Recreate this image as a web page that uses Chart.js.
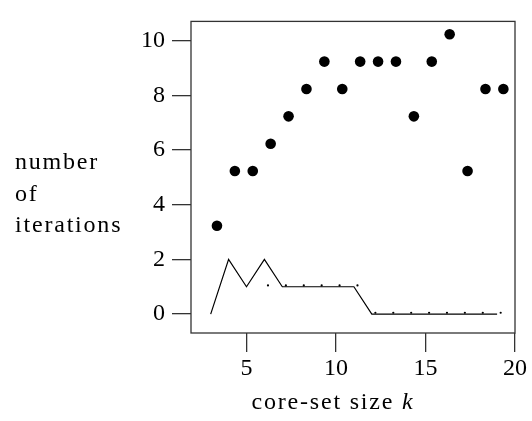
<!DOCTYPE html>
<html>
<head>
<meta charset="utf-8">
<script src="https://cdn.jsdelivr.net/npm/chart.js@4/dist/chart.umd.min.js"></script>
<style>
  html, body { margin: 0; padding: 0; background: #fff; }
  #wrap { width: 532px; height: 421px; }
</style>
</head>
<body>
<div id="wrap"><canvas id="myChart" width="532" height="421"></canvas></div>
<script>
// core-set size k
const coreSetSizes = [3, 4, 5, 6, 7, 8, 9, 10, 11, 12, 13, 14, 15, 16, 17, 18, 19];
// big dots
const iterations = [3, 5, 5, 6, 7, 8, 9, 8, 9, 9, 9, 7, 9, 10, 5, 8, 8];
// solid line
const lineIterations = [0, 2, 1, 2, 1, 1, 1, 1, 1, 0, 0, 0, 0, 0, 0, 0, 0];
// small dots
const smallDotSizes = [6, 7, 8, 9, 10, 11, 12, 13, 14, 15, 16, 17, 18, 19];
const smallDotIterations = [1, 1, 1, 1, 1, 1, 0, 0, 0, 0, 0, 0, 0, 0];

const xTicks = [5, 10, 15, 20];
const yTicks = [0, 2, 4, 6, 8, 10];

// markers sit a little up and right of their value (like the original plot)
const BIG_DX = 0.35, BIG_DY = 0.23;
const SMALL_DX = 0.2, SMALL_DY = 0.05;

const FONT = "'Liberation Serif', 'Times New Roman', serif";
const AXIS_COLOR = "#333";

const frame = {
  id: "frame",
  afterDatasetsDraw(c) {
    const a = c.chartArea, ctx = c.ctx;
    ctx.save();
    ctx.strokeStyle = AXIS_COLOR;
    ctx.lineWidth = 1.3;
    ctx.strokeRect(a.left, a.top, a.right - a.left, a.bottom - a.top);
    ctx.restore();
  },
  afterDraw(c) {
    const ctx = c.ctx;
    ctx.save();
    ctx.fillStyle = "#000";
    ctx.textBaseline = "alphabetic";
    ctx.textAlign = "left";
    ctx.letterSpacing = "1.8px";
    // x title
    ctx.font = "24px " + FONT;
    const t1 = "core-set size ";
    const w1 = ctx.measureText(t1).width;
    ctx.font = "italic 24px " + FONT;
    const w2 = ctx.measureText("k").width;
    const x0 = 333 - (w1 + w2) / 2;
    ctx.font = "24px " + FONT;
    ctx.fillText(t1, x0, 409);
    ctx.font = "italic 24px " + FONT;
    ctx.fillText("k", x0 + w1, 409);
    // y title
    ctx.font = "24px " + FONT;
    ctx.fillText("number", 15, 169);
    ctx.fillText("of", 15, 201);
    ctx.fillText("iterations", 15, 232);
    ctx.restore();
  }
};

let chart = document.getElementById("myChart").getContext("2d");

new Chart(chart, {
  type: "scatter",
  data: {
    datasets: [
      {
        label: "iterations",
        data: coreSetSizes.map((k, i) => ({ x: k + BIG_DX, y: iterations[i] + BIG_DY })),
        backgroundColor: "#000",
        borderColor: "#000",
        pointRadius: 5.3,
        pointBorderWidth: 0,
        showLine: false,
      },
      {
        label: "line",
        data: coreSetSizes.map((k, i) => ({ x: k, y: lineIterations[i] })),
        borderColor: "#000",
        borderWidth: 1.2,
        pointRadius: 0,
        showLine: true,
        tension: 0,
      },
      {
        label: "small",
        data: smallDotSizes.map((k, i) => ({ x: k + SMALL_DX, y: smallDotIterations[i] + SMALL_DY })),
        backgroundColor: "#000",
        borderColor: "#000",
        pointRadius: 1.1,
        pointBorderWidth: 0,
        showLine: false,
      },
    ],
  },
  options: {
    responsive: false,
    animation: false,
    layout: { padding: { top: 7, right: 17, left: 0, bottom: 0 } },
    plugins: {
      legend: { display: false },
      tooltip: { enabled: false },
      title: { display: false },
    },
    scales: {
      x: {
        type: "linear",
        min: 1.9,
        max: 20,
        afterBuildTicks: (s) => { s.ticks = xTicks.map((v) => ({ value: v })); },
        afterFit: (s) => { s.height = 88; },
        border: { display: false },
        grid: { drawOnChartArea: false, drawTicks: true, tickLength: 19, color: AXIS_COLOR, lineWidth: 1.3 },
        ticks: { color: "#000", font: { family: FONT, size: 24 }, padding: 2, maxRotation: 0 },
      },
      y: {
        type: "linear",
        min: -0.69,
        max: 10.7,
        afterBuildTicks: (s) => { s.ticks = yTicks.map((v) => ({ value: v })); },
        afterFit: (s) => { s.width = 191; },
        border: { display: false },
        grid: { drawOnChartArea: false, drawTicks: true, tickLength: 19, color: AXIS_COLOR, lineWidth: 1.3 },
        ticks: { color: "#000", font: { family: FONT, size: 24 }, padding: 7 },
      },
    },
  },
  plugins: [frame],
});
</script>
</body>
</html>
